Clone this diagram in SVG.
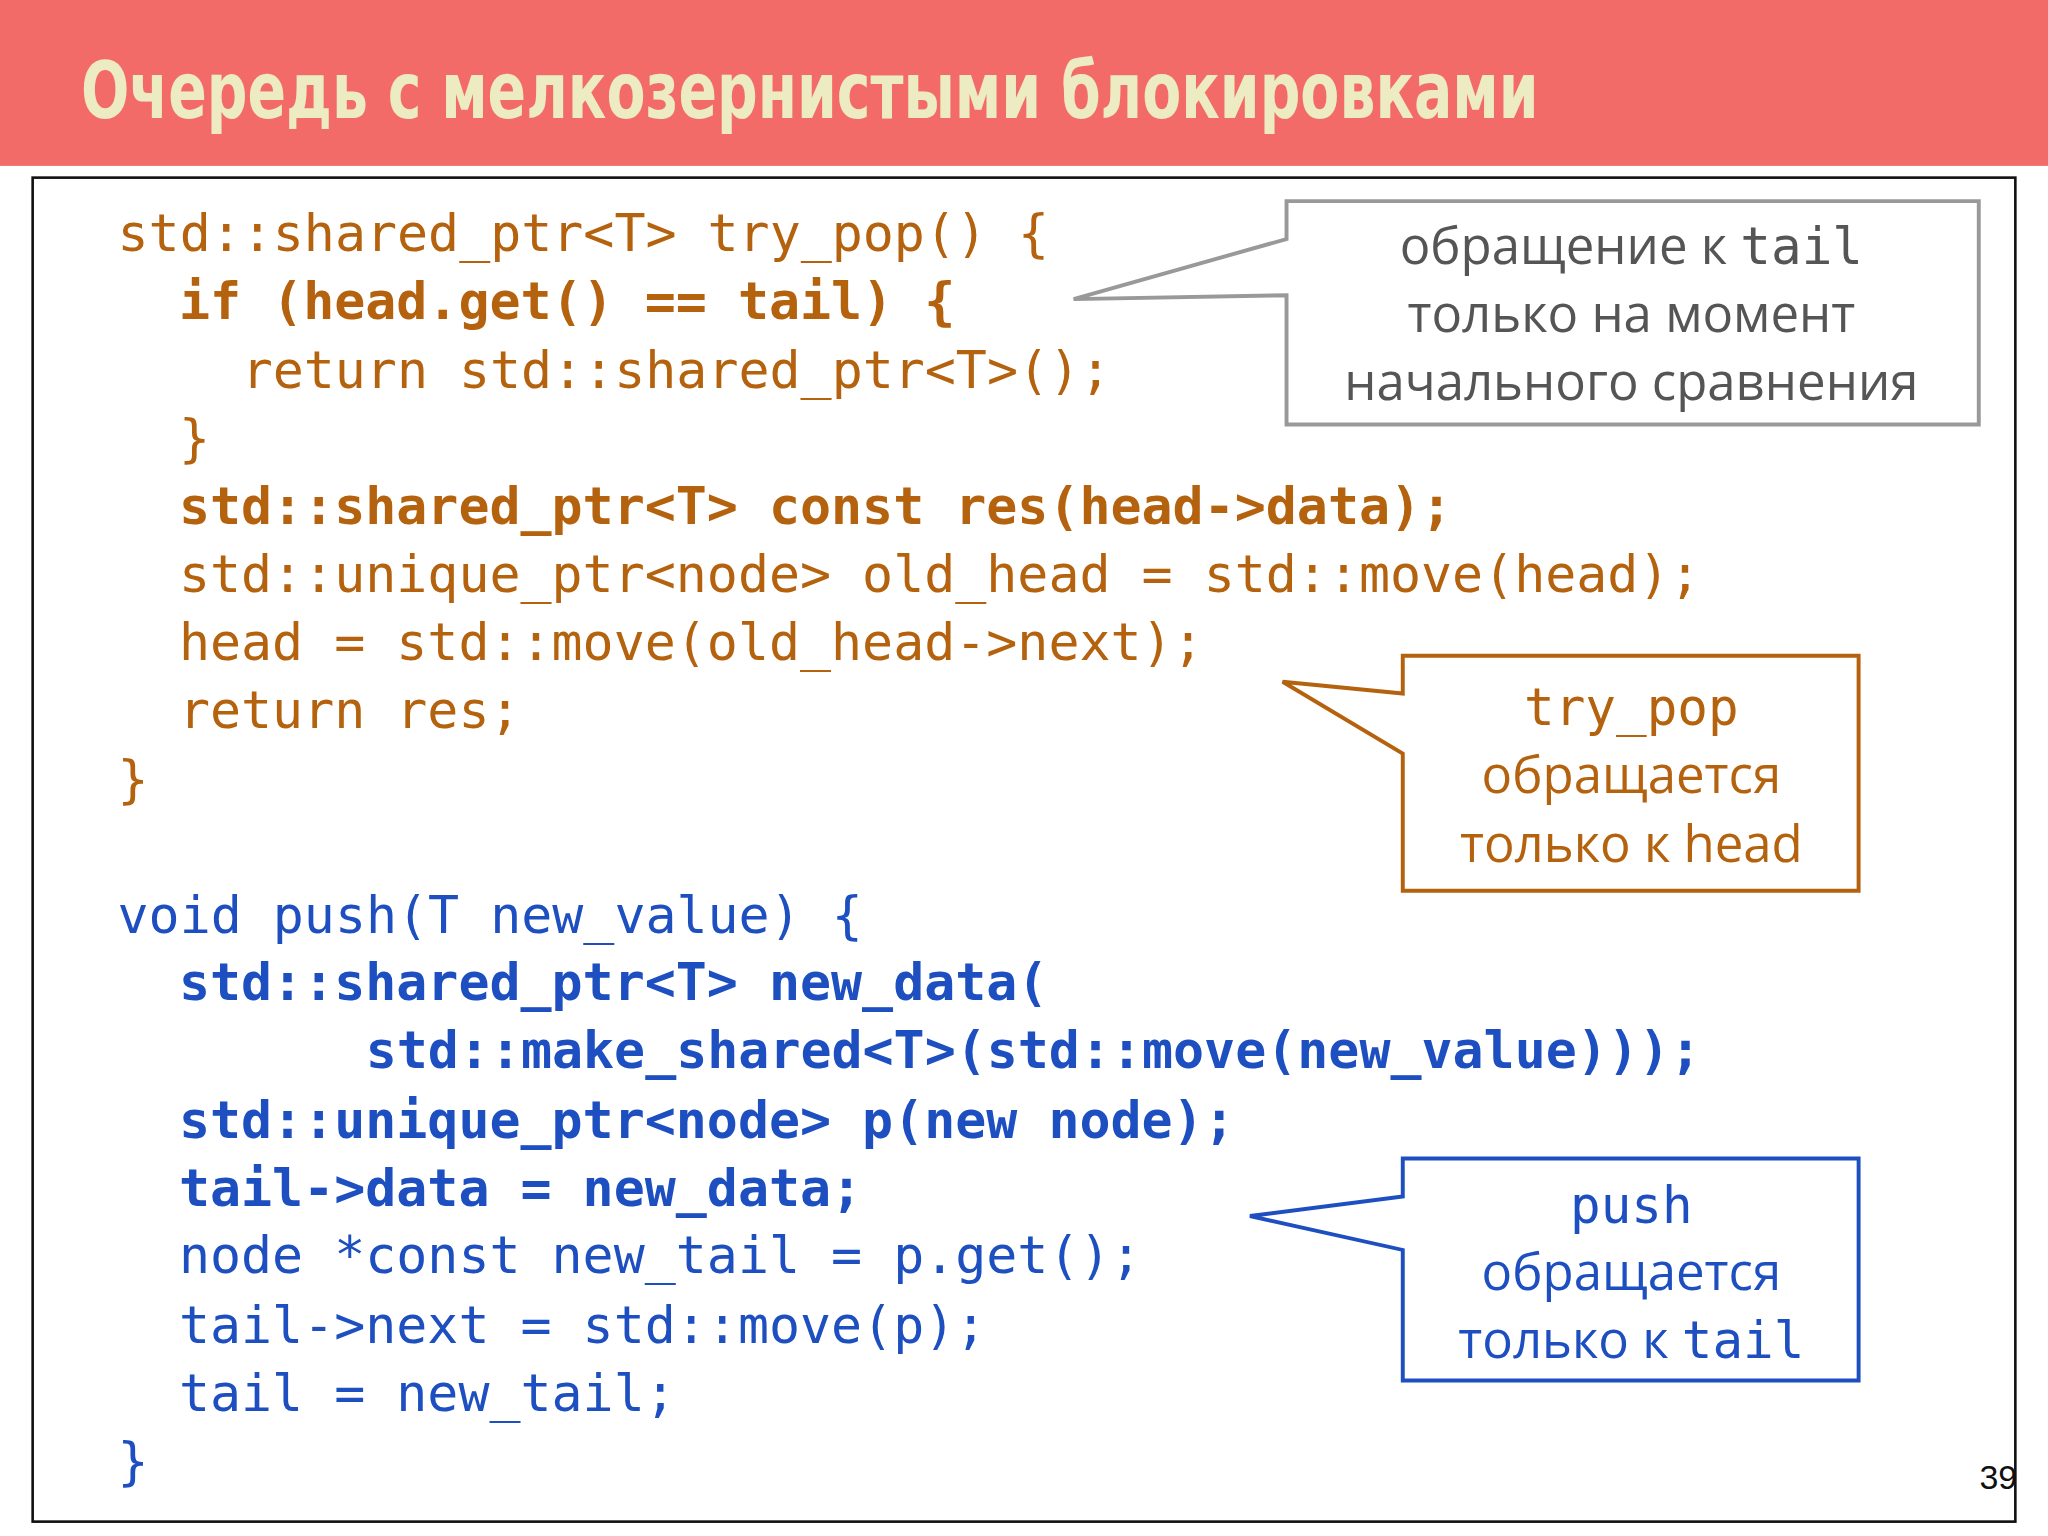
<svg xmlns="http://www.w3.org/2000/svg" width="2048" height="1536" viewBox="0 0 2048 1536">
<style>
.c{font-family:"DejaVu Sans Mono",monospace;font-size:39.5px;white-space:pre}
.o{fill:#B4620E}.b{fill:#1D4FC0}.bd{font-weight:bold}
.s{font-family:"Open Sans","Liberation Sans",sans-serif;font-size:39px;text-anchor:middle}
.m{font-family:"DejaVu Sans Mono",monospace}
</style>
<rect width="2048" height="1536" fill="#fff"/>
<g transform="scale(1.30612)">
<g id="title">
<rect x="0" y="0" width="1568" height="127" fill="#F36B69"/>
<text x="62" y="90" font-family="DejaVu Sans Condensed,DejaVu Sans,sans-serif" font-weight="bold" font-size="60" fill="#EDEBC2" textLength="1116" lengthAdjust="spacingAndGlyphs">Очередь с мелкозернистыми блокировками</text>
</g>
<rect x="25" y="136" width="1518" height="1029" fill="none" stroke="#111" stroke-width="2"/>
<g id="code">
<text class="c o" x="90" y="192">std::shared_ptr&lt;T&gt; try_pop() {</text>
<text class="c o bd" x="137" y="244">if (head.get() == tail) {</text>
<text class="c o" x="185" y="297">return std::shared_ptr&lt;T&gt;();</text>
<text class="c o" x="137" y="349">}</text>
<text class="c o bd" x="137" y="401">std::shared_ptr&lt;T&gt; const res(head-&gt;data);</text>
<text class="c o" x="137" y="453">std::unique_ptr&lt;node&gt; old_head = std::move(head);</text>
<text class="c o" x="137" y="505">head = std::move(old_head-&gt;next);</text>
<text class="c o" x="137" y="557">return res;</text>
<text class="c o" x="90" y="610">}</text>
<text class="c b" x="90" y="714">void push(T new_value) {</text>
<text class="c b bd" x="137" y="766">std::shared_ptr&lt;T&gt; new_data(</text>
<text class="c b bd" x="280" y="818">std::make_shared&lt;T&gt;(std::move(new_value)));</text>
<text class="c b bd" x="137" y="871">std::unique_ptr&lt;node&gt; p(new node);</text>
<text class="c b bd" x="137" y="923">tail-&gt;data = new_data;</text>
<text class="c b" x="137" y="975">node *const new_tail = p.get();</text>
<text class="c b" x="137" y="1028">tail-&gt;next = std::move(p);</text>
<text class="c b" x="137" y="1080">tail = new_tail;</text>
<text class="c b" x="90" y="1132">}</text>
</g>
<g id="callout1">
<path d="M985,183 V154 H1515 V325 H985 V226 L822,229 Z" fill="#fff" stroke="#999" stroke-width="3"/>
<text class="s" x="1249" y="202" fill="#555">обращение к <tspan class="m">tail</tspan></text>
<text class="s" x="1249" y="254" fill="#555">только на момент</text>
<text class="s" x="1249" y="306" fill="#555">начального сравнения</text>
</g>
<g id="callout2">
<path d="M1074,531 V502 H1423 V682 H1074 V577 L982,522 Z" fill="#fff" stroke="#B4620E" stroke-width="3"/>
<text class="s m" x="1249" y="555" fill="#B4620E">try_pop</text>
<text class="s" x="1249" y="607" fill="#B4620E">обращается</text>
<text class="s" x="1249" y="660" fill="#B4620E">только к head</text>
</g>
<g id="callout3">
<path d="M1074,916 V887 H1423 V1057 H1074 V957 L957,931 Z" fill="#fff" stroke="#1D4FC0" stroke-width="3"/>
<text class="s m" x="1249" y="936" fill="#1D4FC0">push</text>
<text class="s" x="1249" y="988" fill="#1D4FC0">обращается</text>
<text class="s" x="1249" y="1040" fill="#1D4FC0">только к <tspan class="m">tail</tspan></text>
</g>
<text x="1530" y="1140" font-family="Liberation Sans,sans-serif" font-size="26" text-anchor="middle" fill="#111">39</text>
</g>
</svg>
